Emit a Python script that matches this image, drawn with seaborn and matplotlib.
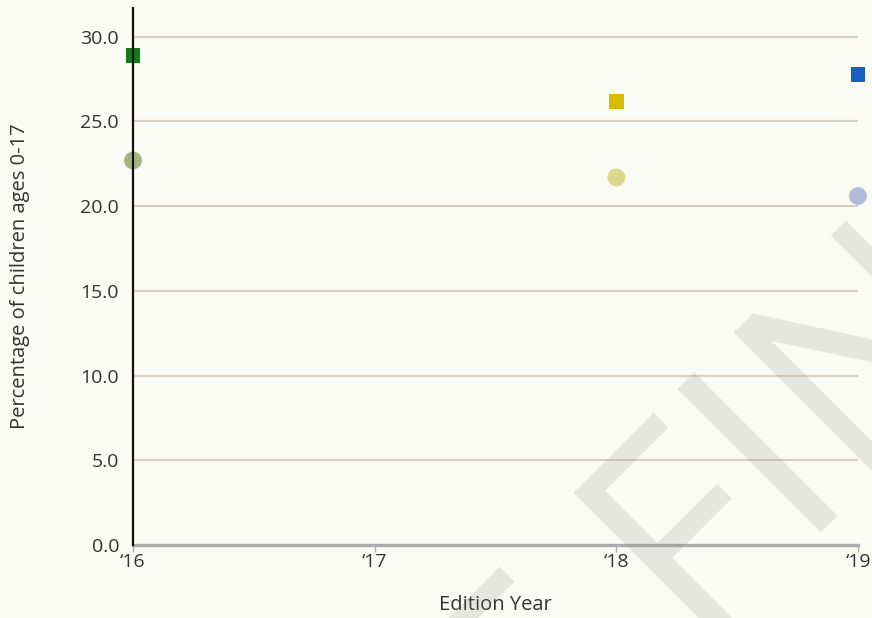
import matplotlib
matplotlib.use("Agg")
import matplotlib.pyplot as plt
import seaborn as sns
import pandas as pd

years = [2016, 2018, 2019]
square_values = [28.9, 26.2, 27.8]
circle_values = [22.7, 21.7, 20.6]
square_colors = ["#127a1c", "#d6bc00", "#1a5fc0"]
circle_colors = ["#a3b382", "#dcd68e", "#b3bbd9"]
x_ticks = [2016, 2017, 2018, 2019]
x_tick_labels = ["\u201816", "\u201817", "\u201818", "\u201819"]
y_ticks = [0, 5, 10, 15, 20, 25, 30]

sns.set_theme(style="white")
plt.rcParams["font.family"] = ["Open Sans", "DejaVu Sans"]

bg = "#fbfbf6"
fig = plt.figure(figsize=(8.72, 6.18), dpi=100, facecolor=bg)
ax = fig.add_axes([133 / 872, 1 - 545 / 618, (858 - 133) / 872, (545 - 8) / 618])
ax.set_facecolor(bg)

df_sq = pd.DataFrame({"year": years, "value": square_values, "key": [str(y) for y in years]})
df_ci = pd.DataFrame({"year": years, "value": circle_values, "key": [str(y) for y in years]})

sns.scatterplot(data=df_ci, x="year", y="value", hue="key",
                palette=dict(zip(df_ci["key"], circle_colors)),
                marker="o", s=165, linewidth=0, legend=False, ax=ax, zorder=4, clip_on=False)
sns.scatterplot(data=df_sq, x="year", y="value", hue="key",
                palette=dict(zip(df_sq["key"], square_colors)),
                marker="s", s=115, linewidth=0, legend=False, ax=ax, zorder=5, clip_on=False)

ax.set_xlim(2016, 2019)
ax.set_ylim(0, 31.7)
ax.set_xticks(x_ticks)
ax.set_xticklabels(x_tick_labels)
ax.set_yticks(y_ticks)
ax.set_yticklabels([f"{v:.1f}" for v in y_ticks])

for v in y_ticks[1:]:
    ax.axhline(v, color="#d8d0c4", lw=1.5, zorder=1)

for s in ["top", "right"]:
    ax.spines[s].set_visible(False)
ax.spines["left"].set_color("#111111")
ax.spines["left"].set_linewidth(1.6)
ax.spines["left"].set_zorder(6)
ax.spines["bottom"].set_color("#acacac")
ax.spines["bottom"].set_linewidth(2.4)

ax.tick_params(axis="x", length=5, width=1, color="#acacac", labelsize=14, pad=1, bottom=True)
ax.tick_params(axis="y", length=0, labelsize=14, pad=10)
for lab in ax.get_xticklabels() + ax.get_yticklabels():
    lab.set_color("#333333")

ax.set_xlabel("Edition Year", fontsize=14.5, color="#333333", labelpad=17)
ax.set_ylabel("Percentage of children ages 0-17", fontsize=14.5, color="#333333", labelpad=36)

fig.text(0.2598, -0.8235, "NOT FINAL", rotation=45, rotation_mode="anchor",
         ha="left", va="baseline", fontsize=205, color="#808078", alpha=0.17,
         zorder=10)

fig.savefig("out.png", dpi=100, facecolor=bg)
